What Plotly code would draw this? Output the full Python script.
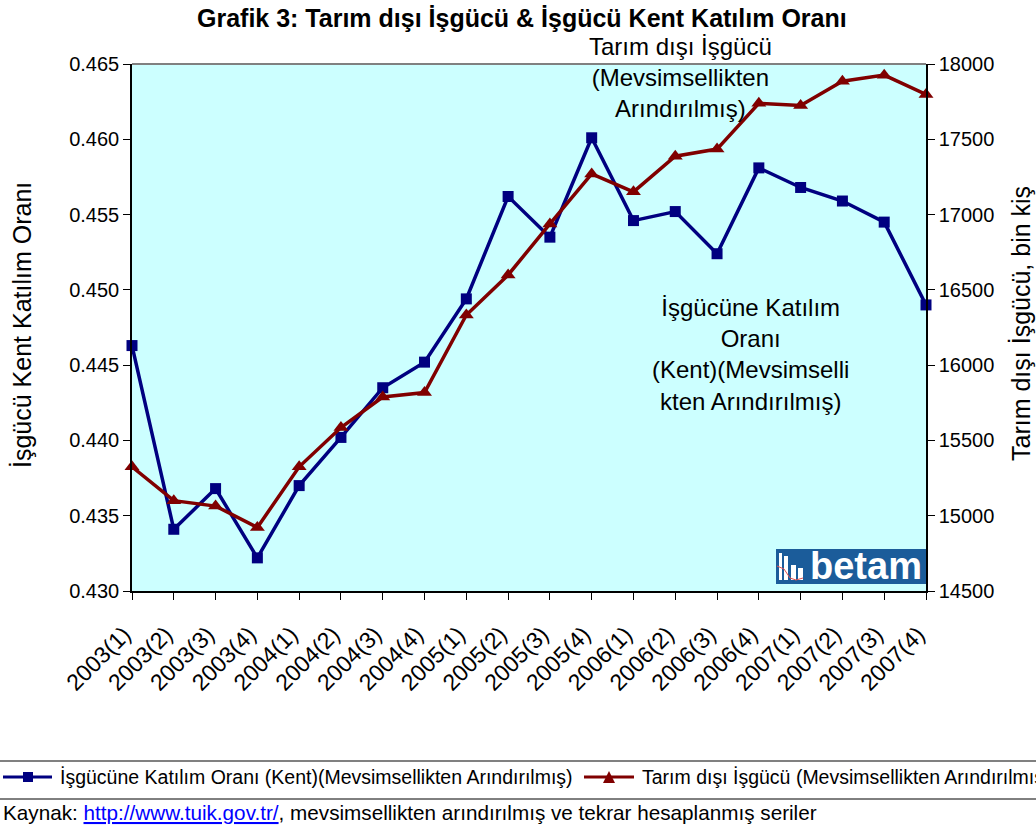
import plotly.graph_objects as go

# ---------------- data ----------------
categories = ["2003(1)", "2003(2)", "2003(3)", "2003(4)",
              "2004(1)", "2004(2)", "2004(3)", "2004(4)",
              "2005(1)", "2005(2)", "2005(3)", "2005(4)",
              "2006(1)", "2006(2)", "2006(3)", "2006(4)",
              "2007(1)", "2007(2)", "2007(3)", "2007(4)"]

participation_urban = [0.4463, 0.4341, 0.4368, 0.4322,
                       0.4370, 0.4402, 0.4435, 0.4452,
                       0.4494, 0.4562, 0.4535, 0.4601,
                       0.4546, 0.4552, 0.4524, 0.4581,
                       0.4568, 0.4559, 0.4545, 0.4490]

nonagri_labour = [15325, 15100, 15064, 14922,
                  15325, 15586, 15788, 15818,
                  16333, 16599, 16938, 17270,
                  17151, 17388, 17435, 17739,
                  17725, 17886, 17926, 17798]

left_ticks = [0.430, 0.435, 0.440, 0.445, 0.450, 0.455, 0.460, 0.465]
right_ticks = [14500, 15000, 15500, 16000, 16500, 17000, 17500, 18000]

name_part = "İşgücüne Katılım Oranı (Kent)(Mevsimsellikten Arındırılmış)"
name_labour = "Tarım dışı İşgücü (Mevsimsellikten Arındırılmış)"

# ---------------- layout helpers ----------------
W, H = 1036, 825
L, R, T, B = 132, 110, 64, 234
PW, PH = W - L - R, H - T - B
FONT = "Liberation Sans, Arial, sans-serif"
BLUE = "#000080"
RED = "#800000"


def px(x):
    return (x - L) / PW


def py(y):
    return (H - B - y) / PH


fig = go.Figure()
fig.add_trace(go.Scatter(
    x=categories, y=participation_urban, name=name_part, yaxis="y",
    mode="lines+markers", cliponaxis=False,
    line=dict(color=BLUE, width=3.5),
    marker=dict(symbol="square", size=11, color=BLUE),
    showlegend=False))
fig.add_trace(go.Scatter(
    x=categories, y=nonagri_labour, name=name_labour, yaxis="y2",
    mode="lines+markers", cliponaxis=False,
    line=dict(color=RED, width=3.5),
    marker=dict(symbol="triangle-up", size=13, color=RED),
    showlegend=False))

shapes = [
    # top border of plot area
    dict(type="line", xref="paper", yref="paper", x0=0, x1=1, y0=1, y1=1,
         line=dict(color="#808080", width=2)),
    # legend separators
    dict(type="line", xref="paper", yref="paper", x0=px(0), x1=px(W), y0=py(761), y1=py(761),
         line=dict(color="#808080", width=2)),
    dict(type="line", xref="paper", yref="paper", x0=px(0), x1=px(W), y0=py(799), y1=py(799),
         line=dict(color="#000000", width=1)),
    # legend symbols
    dict(type="line", xref="paper", yref="paper", x0=px(3), x1=px(52), y0=py(777), y1=py(777),
         line=dict(color=BLUE, width=3)),
    dict(type="rect", xref="paper", yref="paper", x0=px(23), x1=px(33), y0=py(772), y1=py(782),
         line=dict(width=0), fillcolor=BLUE),
    dict(type="line", xref="paper", yref="paper", x0=px(584), x1=px(634), y0=py(777), y1=py(777),
         line=dict(color=RED, width=3)),
    dict(type="path", xref="paper", yref="paper",
         path=f"M {px(603)},{py(783)} L {px(615)},{py(783)} L {px(609)},{py(771)} Z",
         line=dict(width=0), fillcolor=RED),
    # betam logo
    dict(type="rect", xref="paper", yref="paper", x0=px(776), x1=px(926), y0=py(584), y1=py(549),
         line=dict(width=0), fillcolor="#1b5c9a", layer="above"),
    dict(type="rect", xref="paper", yref="paper", x0=px(779), x1=px(782), y0=py(580), y1=py(553),
         line=dict(width=0), fillcolor="#ffffff", layer="above"),
    dict(type="rect", xref="paper", yref="paper", x0=px(784), x1=px(788), y0=py(580), y1=py(556),
         line=dict(width=0), fillcolor="#ffffff", layer="above"),
    dict(type="rect", xref="paper", yref="paper", x0=px(791), x1=px(796), y0=py(580), y1=py(565),
         line=dict(width=0), fillcolor="#ffffff", layer="above"),
    dict(type="rect", xref="paper", yref="paper", x0=px(798), x1=px(803), y0=py(580), y1=py(568),
         line=dict(width=0), fillcolor="#ffffff", layer="above"),
    dict(type="path", xref="paper", yref="paper", layer="above",
         path=(f"M {px(777)},{py(566)} L {px(784)},{py(569)} L {px(790)},{py(578)} "
               f"L {px(796)},{py(580)} L {px(803)},{py(578)}"),
         line=dict(color="#e05050", width=1)),
]

annotations = [
    dict(text="<b>Grafik 3: Tarım dışı İşgücü & İşgücü Kent Katılım Oranı</b>",
         x=px(522), y=py(18), xref="paper", yref="paper", showarrow=False,
         xanchor="center", yanchor="middle", font=dict(size=25, color="black", family=FONT)),
    dict(text="Tarım dışı İşgücü<br>(Mevsimsellikten<br>Arındırılmış)",
         x=px(680), y=py(77), xref="paper", yref="paper", showarrow=False,
         xanchor="center", yanchor="middle", align="center",
         font=dict(size=24, color="black", family=FONT)),
    dict(text="İşgücüne Katılım<br>Oranı<br>(Kent)(Mevsimselli<br>kten Arındırılmış)",
         x=px(750), y=py(354), xref="paper", yref="paper", showarrow=False,
         xanchor="center", yanchor="middle", align="center",
         font=dict(size=24, color="black", family=FONT)),
    dict(text="İşgücü Kent Katılım Oranı", textangle=-90,
         x=px(22), y=py(325), xref="paper", yref="paper", showarrow=False,
         xanchor="center", yanchor="middle", font=dict(size=25, color="black", family=FONT)),
    dict(text="Tarım dışı İşgücü, bin kiş", textangle=-90,
         x=px(1021), y=py(324), xref="paper", yref="paper", showarrow=False,
         xanchor="center", yanchor="middle", font=dict(size=25, color="black", family=FONT)),
    dict(text=name_part,
         x=px(58), y=py(777), xref="paper", yref="paper", showarrow=False,
         xanchor="left", yanchor="middle", font=dict(size=19.5, color="black", family=FONT)),
    dict(text=name_labour,
         x=px(640), y=py(777), xref="paper", yref="paper", showarrow=False,
         xanchor="left", yanchor="middle", font=dict(size=19.5, color="black", family=FONT)),
    dict(text=("Kaynak: <a href='http://www.tuik.gov.tr/' style='color:#0000ff;text-decoration:underline'>"
               "http://www.tuik.gov.tr/</a>, mevsimsellikten arındırılmış ve tekrar hesaplanmış seriler"),
         x=px(1), y=py(812), xref="paper", yref="paper", showarrow=False,
         xanchor="left", yanchor="middle", font=dict(size=20.7, color="black", family=FONT)),
    dict(text="<b>betam</b>",
         x=px(866), y=py(566), xref="paper", yref="paper", showarrow=False,
         xanchor="center", yanchor="middle", font=dict(size=38, color="white", family=FONT)),
]

fig.update_layout(
    width=W, height=H,
    margin=dict(l=L, r=R, t=T, b=B, autoexpand=False),
    paper_bgcolor="white",
    plot_bgcolor="#CCFFFF",
    font=dict(family=FONT, color="black"),
    showlegend=False,
    xaxis=dict(type="category", categoryorder="array", categoryarray=categories,
               range=[0, len(categories) - 1],
               showline=True, linecolor="black", linewidth=1.5,
               ticks="outside", ticklen=7, tickcolor="black", tickwidth=1,
               tickangle=-45, tickfont=dict(size=23, color="black"),
               ticklabelstandoff=12, ticklabelshift=-8,
               showgrid=False, zeroline=False),
    yaxis=dict(range=[0.430, 0.465], tickvals=left_ticks, tickformat=".3f",
               showline=True, linecolor="black", linewidth=1.5,
               ticks="outside", ticklen=7, tickcolor="black",
               tickfont=dict(size=20, color="black"),
               showgrid=False, zeroline=False),
    yaxis2=dict(range=[14500, 18000], tickvals=right_ticks, tickformat="d",
                overlaying="y", side="right",
                showline=True, linecolor="black", linewidth=1.5,
                ticks="outside", ticklen=7, tickcolor="black",
                tickfont=dict(size=20, color="black"),
                showgrid=False, zeroline=False),
    shapes=shapes,
    annotations=annotations,
)

fig.write_html(
    "out.html",
    config={"displayModeBar": False},
    post_script="document.body.style.margin='0';document.body.style.overflow='hidden';",
)
